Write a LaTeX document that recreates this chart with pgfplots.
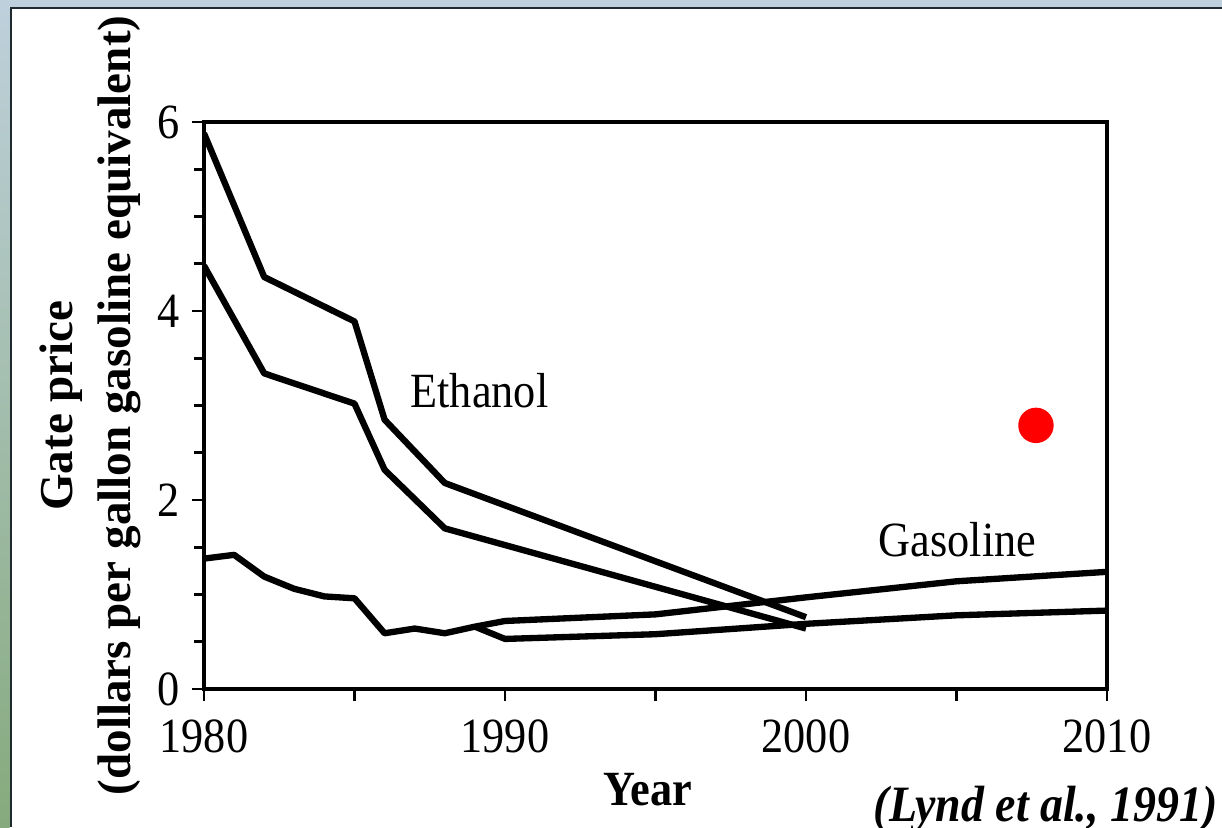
\documentclass[border=0pt]{standalone}
\usepackage{pgfplots}
\pgfplotsset{compat=1.18}
\usepackage{fontspec}
\setmainfont{Liberation Serif}[FakeStretch=0.9]
\newfontfamily\ylabfont{Liberation Serif}
\definecolor{framedark}{HTML}{1F2A2E}
\definecolor{framelight}{HTML}{BED0DB}
\definecolor{framegreen}{HTML}{86AA7D}
\begin{document}
\begin{tikzpicture}[x=1cm,y=1cm]
\useasboundingbox (0,0) rectangle (12.22,8.27);
\fill[white] (0,0) rectangle (12.22,8.27);
\fill[framelight] (0,8.20) rectangle (12.22,8.27);
\shade[top color=framelight, bottom color=framegreen] (0,0) rectangle (0.095,8.20);
\fill[framedark] (0.095,0) rectangle (0.115,8.20);
\fill[framedark] (0.095,8.185) rectangle (12.22,8.205);
\begin{axis}[
  at={(2.04cm,1.38cm)}, anchor=south west,
  scale only axis, width=9.03cm, height=5.67cm,
  xmin=1980, xmax=2010, ymin=0, ymax=6,
  axis line style={line width=1.3pt},
  xtick={1980,1985,...,2010}, xticklabels={1980,,1990,,2000,,2010},
  ytick={0,2,4,6}, yticklabels={0,2,4,6},
  minor ytick={0.5,1,1.5,2.5,3,3.5,4.5,5,5.5},
  tick align=outside, tick pos=left,
  major tick length=1.2mm, minor tick length=1.0mm,
  tick style={line width=0.8pt, black},
  tick label style={font=\fontsize{14}{16}\selectfont},
  xticklabel style={yshift=-0.6mm},
  ylabel={Gate price\\(dollars per gallon gasoline equivalent)},
  ylabel style={font=\ylabfont\bfseries\fontsize{13.4}{16.5}\selectfont, align=center,
    at={(axis description cs:-0.126,0.5)}, anchor=center},
  xlabel={Year},
  xlabel style={font=\bfseries\fontsize{14}{16}\selectfont,
    at={(axis description cs:0.4917,-0.178)}, anchor=center},
]
% Ethanol (upper)
\addplot[black, line width=1.8pt, line join=round] coordinates {
 (1980,5.88) (1982,4.36) (1985,3.89) (1986,2.85) (1988,2.18) (2000,0.76)};
% Ethanol (lower)
\addplot[black, line width=1.8pt, line join=round] coordinates {
 (1980,4.48) (1982,3.34) (1985,3.02) (1986,2.32) (1988,1.70) (2000,0.64)};
% Gasoline history + upper projection
\addplot[black, line width=1.8pt, line join=round] coordinates {
 (1980,1.38) (1981,1.42) (1982,1.19) (1983,1.06) (1984,0.98) (1985,0.96)
 (1986,0.59) (1987,0.64) (1988,0.59) (1989,0.66) (1990,0.72) (1995,0.79)
 (2000,0.97) (2005,1.14) (2010,1.24)};
% Gasoline lower projection
\addplot[black, line width=1.8pt, line join=round] coordinates {
 (1989,0.66) (1990,0.53) (1995,0.58) (2000,0.69) (2005,0.78) (2010,0.83)};
% red dot
\addplot[only marks, mark=*, mark size=1.7mm, color=red] coordinates {(2007.64,2.79)};
\node[anchor=base west, font=\fontsize{14}{16}\selectfont, inner sep=0] at (axis cs:1986.84,2.98) {Ethanol};
\node[anchor=base west, font=\fontsize{14}{16}\selectfont, inner sep=0] at (axis cs:2002.40,1.40) {Gasoline};
\end{axis}
\node[anchor=base east, font=\bfseries\itshape\fontsize{14.5}{17}\selectfont, inner sep=0] at (12.18,0.06) {(Lynd et al., 1991)};
\end{tikzpicture}
\end{document}
